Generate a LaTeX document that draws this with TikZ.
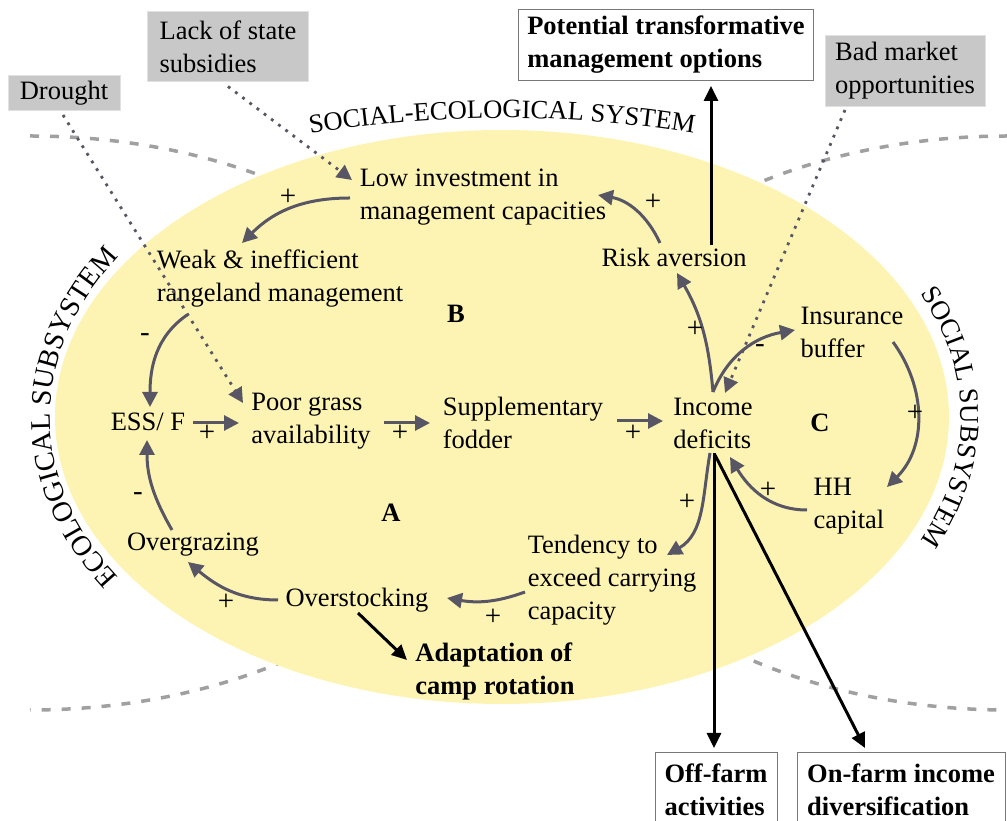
\documentclass[tikz,border=0pt]{standalone}
\usepackage{fontspec}
\setmainfont{Liberation Serif}
\usetikzlibrary{arrows.meta,decorations.text,calc}
\definecolor{ellfill}{RGB}{253,244,180}
\definecolor{arrgray}{RGB}{88,86,100}
\definecolor{boxgray}{RGB}{200,200,200}
\definecolor{boxedge}{RGB}{225,225,225}
\definecolor{dashgray}{RGB}{160,160,160}
\definecolor{edgegray}{RGB}{120,120,120}
\tikzset{
 lbl/.style={font=\fontsize{26.5}{33}\selectfont, align=left, inner sep=1pt},
 bld/.style={lbl, font=\bfseries\fontsize{26.5}{33}\selectfont},
 graybox/.style={lbl, fill=boxgray, draw=boxedge, line width=1pt},
 whitebox/.style={bld, fill=white, draw=edgegray, line width=1pt},
 sgn/.style={font=\fontsize{29}{29}\selectfont, inner sep=0pt},
 garr/.style={draw=arrgray, line width=3pt, -{Triangle[length=15pt,width=15pt]}},
 barr/.style={draw=black, line width=3pt, -{Triangle[length=15pt,width=14pt]}},
 dotarr/.style={draw=arrgray, line width=2.8pt, dash pattern=on 2.8pt off 6.2pt, -{Triangle[length=15pt,width=15pt]}},
 dashb/.style={draw=dashgray, line width=3.5pt, dash pattern=on 9pt off 11pt},
 arctext/.style 2 args={decorate, decoration={text along path, text align=center, text={|\fontsize{#1}{30}\selectfont|#2}}}
}
\begin{document}
\begin{tikzpicture}[x=1pt,y=1pt]
\useasboundingbox (0,0) rectangle (1007,821);
\clip (0,0) rectangle (1007,821);
% subsystem boundaries
\draw[dashb] (30,685) arc[start angle=90, end angle=-90, x radius=455pt, y radius=287pt];
\draw[dashb] (1008,685) arc[start angle=90, end angle=270, x radius=455pt, y radius=287pt];
% social-ecological system
\fill[ellfill] (502,404) ellipse [x radius=447pt, y radius=287pt];
% curved titles
\path[arctext={26.5}{SOCIAL-ECOLOGICAL SYSTEM}] ($(502,404)+(160:600pt and 299pt)$) arc[start angle=160, end angle=20, x radius=600pt, y radius=299pt];
\path[arctext={28.5}{ECOLOGICAL SUBSYSTEM}] ($(502,404)+(225:452pt and 302pt)$) arc[start angle=225, end angle=135, x radius=452pt, y radius=302pt];
\path[arctext={27}{SOCIAL SUBSYSTEM}] ($(502,404)+(40:459pt and 300pt)$) arc[start angle=40, end angle=-40, x radius=459pt, y radius=300pt];
% external drivers and options
\node[graybox, minimum width=161pt, minimum height=70pt] (subs) at (228,774) {Lack of state\\subsidies};
\node[graybox, minimum width=112pt, minimum height=35pt] (drought) at (64,728) {Drought};
\node[graybox, minimum width=160pt, minimum height=71pt] (market) at (905,750) {Bad market\\opportunities};
\node[whitebox, minimum width=295pt, minimum height=71pt] (pot) at (666,776) {Potential transformative\\management options};
\node[whitebox, minimum width=122pt, minimum height=74pt] (off) at (716,31) {Off-farm\\activities};
\node[whitebox, minimum width=208pt, minimum height=74pt] (on) at (901,31) {On-farm income\\diversification};
% variables
\node[lbl] (lowinv) at (483,624) {Low investment in\\management capacities};
\node[lbl] (weak) at (280,542) {Weak \& inefficient\\rangeland management};
\node[lbl] (risk) at (674,564) {Risk aversion};
\node[lbl] (ins) at (852,489) {Insurance\\buffer};
\node[lbl] (ess) at (148,399) {ESS/ F};
\node[lbl] (poor) at (311,400) {Poor grass\\availability};
\node[lbl] (supp) at (523,398) {Supplementary\\fodder};
\node[lbl] (inc) at (713,398) {Income\\deficits};
\node[lbl] (hh) at (849,315) {HH\\capital};
\node[lbl] (overg) at (193,276) {Overgrazing};
\node[lbl] (tend) at (612,241) {Tendency to\\exceed carrying\\capacity};
\node[lbl] (overs) at (357,221) {Overstocking};
\node[bld] (adapt) at (495,150) {Adaptation of\\camp rotation};
\node[bld] (lb) at (456,507) {B};
\node[bld] (la) at (391,308) {A};
\node[bld] (lc) at (820,398) {C};
% dotted influences
\draw[dotarr] ([yshift=-4pt]subs.south) -- ([shift={(-131,17)}]lowinv.center);
\draw[dotarr] ([shift={(-1,-22)}]drought.center) -- ([shift={(-68,18)}]poor.center);
\draw[dotarr] ([shift={(-60,-39)}]market.center) -- ([shift={(12,30)}]inc.center);
% causal links
\draw[garr] ([shift={(-133,-1)}]lowinv.center) to[out=180,in=45] ([shift={(-38,36)}]weak.center);
\draw[garr] ([shift={(-14,14)}]risk.center) to[out=115,in=-10] ([shift={(115,2)}]lowinv.center);
\draw[garr] ([shift={(0,31)}]inc.center) to[out=95,in=-60] ([shift={(3,-16)}]risk.center);
\draw[garr] ([shift={(0,31)}]inc.center) to[out=68,in=190] ([shift={(-57,2)}]ins.center);
\draw[garr] ([shift={(41,-10)}]ins.center) to[out=-54,in=45] ([shift={(38,19)}]hh.center);
\draw[garr] ([shift={(-42,-4)}]hh.center) to[out=180,in=-59] ([shift={(17,-34)}]inc.center);
\draw[garr] ([shift={(-3,-30)}]inc.center) to[out=-100,in=30] ([shift={(55,25)}]tend.center);
\draw[garr] ([shift={(-87,-12)}]tend.center) to[out=200,in=-10] ([shift={(90,2)}]overs.center);
\draw[garr] ([shift={(-79,0)}]overs.center) to[out=180,in=-40] ([shift={(-5,-17)}]overg.center);
\draw[garr] ([shift={(-21,15)}]overg.center) to[out=120,in=-90] ([shift={(-1,-18)}]ess.center);
\draw[garr] ([shift={(-93,-36)}]weak.center) to[out=215,in=90] ([shift={(2,15)}]ess.center);
\draw[garr] ([shift={(45,-1)}]ess.center) -- ([shift={(-72,-2)}]poor.center);
\draw[garr] ([shift={(73,-2)}]poor.center) -- ([shift={(-93,0)}]supp.center);
\draw[garr] ([shift={(94,2)}]supp.center) -- ([shift={(-50,2)}]inc.center);
% management options
\draw[barr] ([shift={(37,12)}]risk.center) -- ([shift={(45,-41)}]pot.center);
\draw[barr] ([shift={(1,-30)}]inc.center) -- ([shift={(-2,42)}]off.center);
\draw[barr] ([shift={(2,-32)}]inc.center) -- ([shift={(-36,42)}]on.center);
\draw[barr] ([shift={(1,-13)}]overs.center) -- ([shift={(-88,11)}]adapt.center);
% polarity signs
\node[sgn] (s1) at (288,624) {+};
\node[sgn] (s2) at (653,619) {+};
\node[sgn] (s3) at (695,492) {+};
\node[sgn] (s4) at (760,472) {-};
\node[sgn] (s5) at (915,408) {+};
\node[sgn] (s6) at (768,331) {+};
\node[sgn] (s7) at (687,319) {+};
\node[sgn] (s8) at (493,204) {+};
\node[sgn] (s9) at (226,219) {+};
\node[sgn] (s10) at (138,324) {-};
\node[sgn] (s11) at (145,483) {-};
\node[sgn] (s12) at (207,388) {+};
\node[sgn] (s13) at (400,388) {+};
\node[sgn] (s14) at (633,388) {+};
\end{tikzpicture}
\end{document}
